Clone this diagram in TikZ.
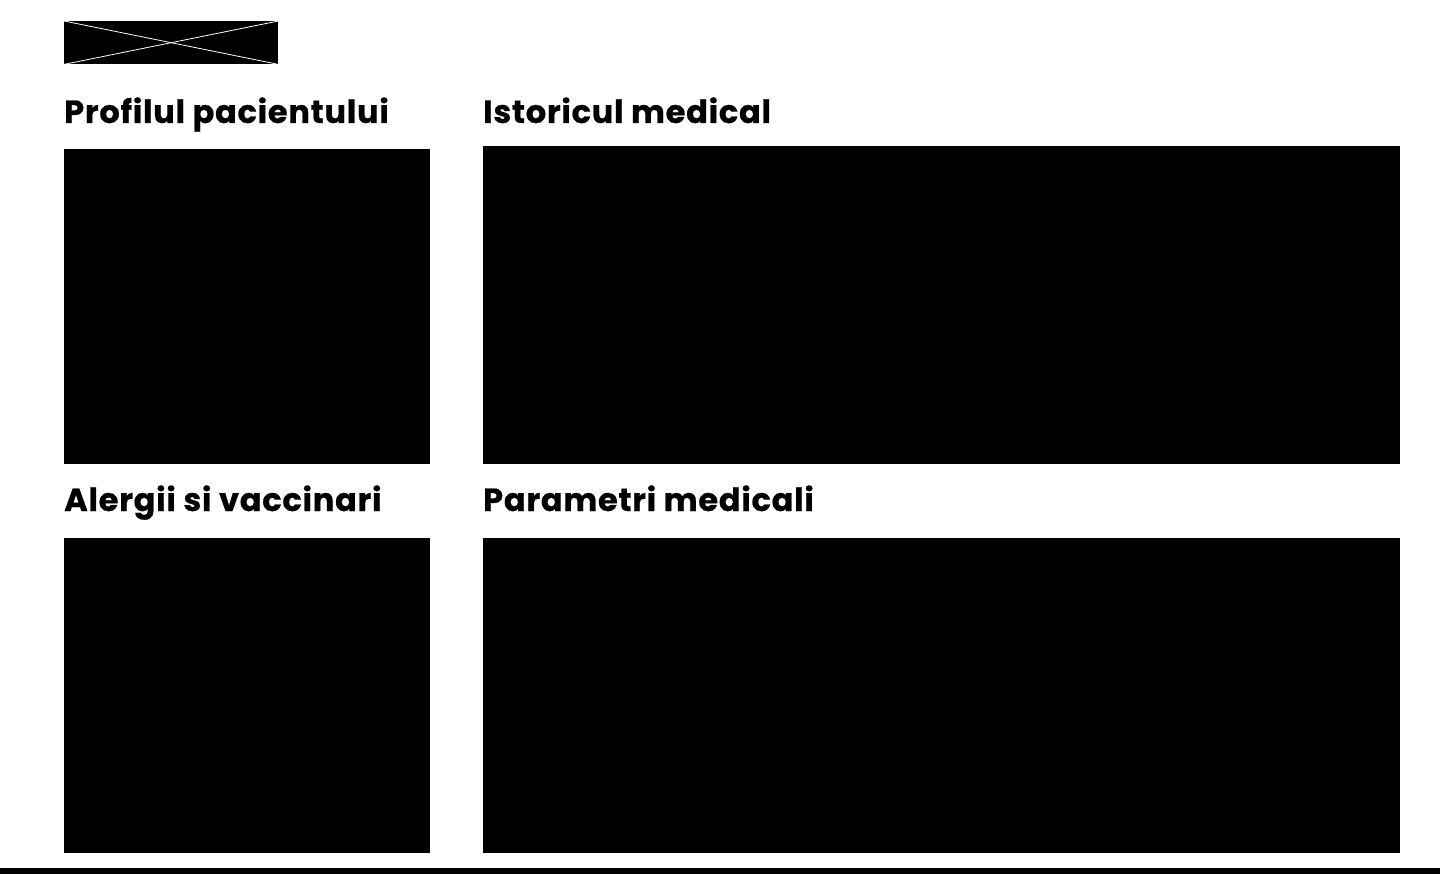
\documentclass[tikz,border=0pt]{standalone}
\usepackage{fontspec}
\setmainfont{Poppins}
\newfontfamily\headfont{Poppins}[LetterSpace=2.4, FakeBold=0.6]
\usetikzlibrary{positioning}
\usetikzlibrary{calc}
\newcommand{\heading}[1]{\headfont\fontsize{32}{36}\selectfont\bfseries #1}

\begin{document}
\begin{tikzpicture}[x=1pt,y=-1pt]
                % Panel style
                \tikzset{
                    panel/.style={fill=black, draw=none, inner sep=0pt, anchor=north west},
                    title/.style={anchor=base west, inner sep=0pt},
                }

                % Page size
                \useasboundingbox (0,0) rectangle (1440,874);

                % Logo placeholder
                \node[panel, minimum width=214pt, minimum height=43pt] (logo) at (64,21){};

                % Headings
                \node[title] (tprofil) at (64,123) {\heading{Profilul pacientului}};
                \node[title] (tistoric) at (483,123) {\heading{Istoricul medical}};
                \node[title] (talergii) at (64,511) {\heading{Alergii si vaccinari}};
                \node[title] (tparam) at (483,511) {\heading{Parametri medicali}};

                % Panels
                \node[panel, minimum width=366pt, minimum height=315pt] (profil) at (64,149){};
                \node[panel, minimum width=917pt, minimum height=318pt] (istoric) at (483,146){};
                \node[panel, minimum width=366pt, minimum height=315pt] (alergii) at (64,538){};
                \node[panel, minimum width=917pt, minimum height=315pt] (param) at (483,538){};

                % Footer bar
                \node[panel, minimum width=1440pt, minimum height=6pt] (bar) at (0,868){};

                % Cross on the logo
                \draw[white, line width=0.8pt] (logo.north west) -- (logo.south east);
                \draw[white, line width=0.8pt] (logo.south west) -- (logo.north east);
            \end{tikzpicture}
\end{document}
